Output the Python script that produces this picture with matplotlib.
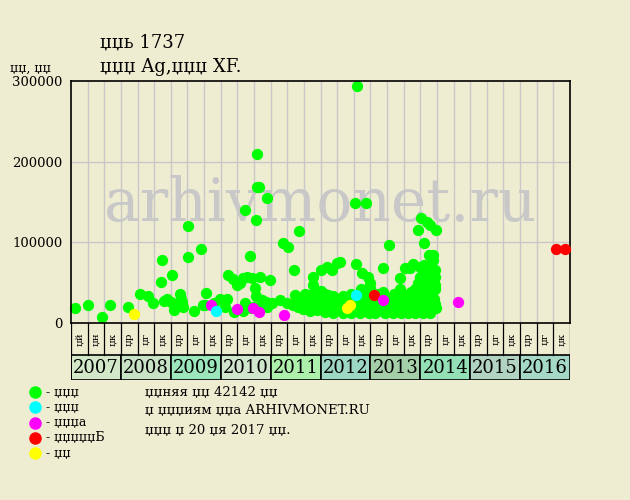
import matplotlib
matplotlib.use('Agg')
import matplotlib.pyplot as plt
from matplotlib.patches import Rectangle
from matplotlib.lines import Line2D

plt.rcParams['font.family'] = ['DejaVu Serif']

# --- data -------------------------------------------------------------
years = [2007, 2008, 2009, 2010, 2011, 2012, 2013, 2014, 2015, 2016]
year_colors = ['#d2e8c8', '#c8e2c6', '#9ce6bc', '#cfe6cc', '#acf0ac',
               '#9cd8c4', '#a4cfa8', '#94e0b6', '#b2d2c2', '#a6d8c8']
period_labels_first = ['џй', 'џн', 'џк']
period_labels = ['џр', 'џг', 'џк']

# green: regular sales (date as decimal year, price in thousands)
green_dates = [
    2007.08, 2007.34, 2007.62, 2007.78, 2008.14, 2008.38, 2008.54, 2008.64,
    2008.80, 2008.82, 2008.86, 2008.92, 2009.00, 2009.02, 2009.06, 2009.10,
    2009.18, 2009.20, 2009.22, 2009.24, 2009.34, 2009.34, 2009.46, 2009.60,
    2009.65, 2009.68, 2009.71,
    2009.86, 2009.99, 2010.09, 2010.13, 2010.15, 2010.25, 2010.27, 2010.33,
    2010.39, 2010.45, 2010.45, 2010.49, 2010.49, 2010.53, 2010.59, 2010.60,
    2010.63, 2010.65, 2010.69, 2010.71, 2010.71, 2010.73, 2010.73, 2010.77,
    2010.79, 2010.80, 2010.83, 2010.90, 2010.93, 2010.93, 2010.99, 2011.03,
    2011.19, 2011.25, 2011.33, 2011.35, 2011.47, 2011.49, 2011.55, 2011.57,
    2011.65, 2011.73, 2011.79, 2011.79, 2011.85, 2011.85, 2011.89, 2011.99,
    2011.99, 2012.01, 2012.13, 2012.15, 2012.19, 2012.23, 2012.25, 2012.25,
    2012.31, 2012.33, 2012.33,
    2011.45, 2011.55, 2011.62, 2011.68, 2011.70, 2011.75, 2011.85, 2011.92,
    2011.95, 2012.02, 2012.05, 2012.10, 2012.10, 2012.15,
    2012.39, 2012.71, 2012.69, 2012.91, 2012.73, 2013.37, 2013.25, 2012.83,
    2012.95, 2012.99, 2013.59, 2013.69, 2013.79, 2013.85, 2013.99, 2014.07,
    2014.13, 2014.19, 2014.29, 2014.25, 2014.17, 2014.25, 2014.07, 2014.01,
    2014.13, 2014.19, 2014.31, 2013.95, 2014.25, 2014.29,
    2012.25, 2012.45, 2012.62, 2012.80, 2012.98, 2013.10, 2013.30, 2013.45,
    2013.62, 2013.75, 2013.90, 2014.05, 2014.20,
    2012.20, 2012.35, 2012.50, 2012.68, 2012.85, 2013.02, 2013.18, 2013.38,
    2013.55, 2013.70, 2013.85, 2014.00, 2014.12, 2014.26, 2014.32,
    2012.28, 2012.42, 2012.60, 2012.78, 2012.92, 2013.12, 2013.33, 2013.50,
    2013.66, 2013.80, 2013.95, 2014.08, 2014.22, 2014.30,
    2012.35, 2012.55, 2012.75, 2012.88, 2013.05, 2013.20, 2013.42, 2013.58,
    2013.72, 2013.88, 2014.02, 2014.15, 2014.28,
    2012.62, 2012.80, 2013.00, 2013.15, 2013.48, 2013.65, 2013.92, 2014.10,
    2014.24,
    2012.82, 2012.97, 2013.60, 2013.90, 2014.05, 2014.20, 2014.30,
    2013.95, 2014.10, 2014.28, 2012.99,
    2014.00, 2014.18, 2014.30,
    2012.38, 2012.52, 2012.70, 2012.90, 2013.08, 2013.27, 2013.40, 2013.53,
    2013.68, 2013.83, 2013.98, 2014.16, 2012.45, 2012.66, 2012.86, 2013.14,
    2013.36, 2013.56, 2013.78, 2014.04, 2014.24, 2012.57, 2013.25, 2013.82,
]
green_prices = [
    18.6, 22.0, 7.0, 22.0, 19.5, 36.5, 33.5, 24.5,
    50.5, 78.5, 27.0, 29.5, 26.5, 59.0, 16.0, 22.0,
    36.5, 30.0, 26.5, 19.5, 120.0, 82.0, 14.5, 91.5,
    22.0, 22.0, 37.5,
    25.0, 30.0, 20.0, 30.0, 59.0, 54.0, 13.5, 47.0,
    50.0, 55.5, 15.0, 140.0, 25.0, 57.0, 83.0, 18.0,
    56.0, 20.0, 43.5, 127.5, 33.0, 168.0, 210.0, 168.0,
    57.0, 22.0, 28.5, 26.0, 155.0, 19.5, 53.0, 25.0,
    28.5, 99.0, 25.0, 94.0, 66.0, 34.5, 19.5, 114.5,
    17.5, 24.5, 15.0, 35.0, 57.0, 47.0, 33.5, 35.0,
    22.0, 65.5, 69.5, 35.0, 19.5, 65.5, 33.5, 24.0,
    28.5, 74.0, 16.0,
    22.0, 28.0, 20.0, 36.0, 30.0, 18.0, 25.0, 16.0,
    30.0, 40.0, 22.0, 14.0, 36.0, 28.0,
    76.0, 73.0, 149.0, 148.5, 294.0, 96.5, 68.5, 62.0,
    57.0, 49.5, 55.5, 68.0, 68.0, 73.0, 70.0, 72.0,
    66.5, 65.5, 65.5, 78.0, 84.0, 84.0, 99.0, 130.0,
    125.0, 121.5, 115.0, 115.0, 49.5, 47.0,
    13.0, 13.0, 13.0, 13.0, 13.0, 13.0, 13.0, 13.0,
    13.0, 13.0, 13.0, 13.0, 13.0,
    18.0, 18.0, 18.0, 18.0, 18.0, 18.0, 18.0, 18.0,
    18.0, 18.0, 18.0, 18.0, 18.0, 18.0, 18.0,
    24.0, 24.0, 24.0, 24.0, 24.0, 24.0, 24.0, 24.0,
    24.0, 24.0, 24.0, 24.0, 24.0, 24.0,
    30.0, 30.0, 30.0, 30.0, 30.0, 30.0, 30.0, 30.0,
    30.0, 30.0, 30.0, 30.0, 30.0,
    36.0, 36.0, 36.0, 36.0, 36.0, 36.0, 36.0, 36.0,
    36.0,
    42.0, 42.0, 42.0, 42.0, 42.0, 42.0, 42.0,
    50.0, 50.0, 50.0, 44.0,
    57.0, 57.0, 57.0,
    15.5, 21.0, 15.5, 21.0, 27.0, 15.5, 21.0, 27.0,
    15.5, 21.0, 27.0, 21.0, 33.0, 27.0, 33.0, 33.0,
    27.0, 33.0, 33.0, 33.0, 39.0, 27.0, 39.0, 39.0,
]

red_dates = [2013.07, 2016.72, 2016.90]
red_prices = [34.7, 91.7, 91.7]
magenta_dates = [2009.81, 2010.33, 2010.65, 2010.77, 2011.27, 2013.25, 2014.76]
magenta_prices = [22.3, 17.4, 18.2, 13.6, 9.9, 28.5, 25.5]
cyan_dates = [2009.91, 2012.71]
cyan_prices = [14.9, 34.7]
yellow_dates = [2008.26, 2012.53, 2012.59]
yellow_prices = [11.2, 18.6, 22.3]

legend_labels = ['- џџџ', '- џџџ', '- џџџа', '- џџџџџБ', '- џџ']
legend_colors = ['#00ff00', '#00ffff', '#ff00ff', '#ff0000', '#ffff00']
info_lines = ['џџняя џџ 42142 џџ',
              'џ џџџиям џџа ARHIVMONET.RU',
              'џџџ џ 20 џя 2017 џџ.']

# --- figure -----------------------------------------------------------
bg = '#efedd1'
fig = plt.figure(figsize=(6.3, 5), dpi=100, facecolor=bg)

ax = fig.add_axes([71 / 630, 1 - 323 / 500, 499 / 630, 242 / 500], facecolor=bg)
ax.set_xlim(2007, 2017)
ax.set_ylim(0, 300000)
for k in range(1, 30):
    ax.axvline(2007 + k / 3, color='#c8c8c8', lw=1, zorder=0)
for v in [100000, 200000]:
    ax.axhline(v, color='#c8c8c8', lw=1, zorder=0)
ax.set_xticks([])
ax.set_yticks([0, 100000, 200000, 300000])
ax.set_yticklabels(['0', '100000', '200000', '300000'], fontsize=9.5)
ax.tick_params(axis='y', length=0, pad=6)
for s in ax.spines.values():
    s.set_color('black')
    s.set_linewidth(1.2)

ax.text(0.499, 0.49, 'arhivmonet.ru', transform=ax.transAxes, fontsize=43,
        color='#c8c8c8', ha='center', va='center', zorder=1)

ms = 66
ax.scatter(green_dates, [p * 1000 for p in green_prices], s=ms, c='#00ff00',
           lw=0, zorder=2, clip_on=False)
ax.scatter(red_dates, [p * 1000 for p in red_prices], s=ms, c='#ff0000',
           lw=0, zorder=3, clip_on=False)
ax.scatter(magenta_dates, [p * 1000 for p in magenta_prices], s=ms, c='#ff00ff',
           lw=0, zorder=4, clip_on=False)
ax.scatter(cyan_dates, [p * 1000 for p in cyan_prices], s=ms, c='#00ffff',
           lw=0, zorder=5, clip_on=False)
ax.scatter(yellow_dates, [p * 1000 for p in yellow_prices], s=ms, c='#ffff00',
           lw=0, zorder=6, clip_on=False)

# strip with periods and years
ax2 = fig.add_axes([71 / 630, 1 - 380 / 500, 499 / 630, 57 / 500], facecolor=bg)
ax2.set_xlim(2007, 2017)
ax2.set_ylim(0, 57)
ax2.axis('off')
for k in range(31):
    ax2.plot([2007 + k / 3] * 2, [25, 57], color='black', lw=0.9)
for i, y in enumerate(years):
    ax2.add_patch(Rectangle((y, 0), 1, 25, facecolor=year_colors[i],
                            edgecolor='black', lw=1.2))
    ax2.text(y + 0.5, 12, str(y), ha='center', va='center', fontsize=13)
    labs = period_labels_first if i == 0 else period_labels
    for j, lab in enumerate(labs):
        ax2.text(y + (j + 0.5) / 3, 41, lab, rotation=90, ha='center',
                 va='center', fontsize=7.5)
ax2.plot([2007, 2007], [0, 57], color='black', lw=1.4)

# texts
fig.text(100 / 630, 1 - 43 / 500, 'џџь 1737', fontsize=13, va='center')
fig.text(100 / 630, 1 - 67 / 500, 'џџџ Ag,џџџ XF.', fontsize=13, va='center')
fig.text(10 / 630, 1 - 68 / 500, 'џџ, џџ', fontsize=9, va='center')

for i, (lab, col) in enumerate(zip(legend_labels, legend_colors)):
    yy = 1 - (392 + 15.3 * i) / 500
    fig.add_artist(Line2D([35 / 630], [yy], marker='o', ms=8, color=col,
                          mec=col, ls='none'))
    fig.text(46 / 630, yy, lab, fontsize=9, va='center')

for i, line in enumerate(info_lines):
    fig.text(145 / 630, 1 - (392 + 19 * i) / 500, line, fontsize=9.5,
             va='center')

fig.savefig('out.png', dpi=100, facecolor=bg)
